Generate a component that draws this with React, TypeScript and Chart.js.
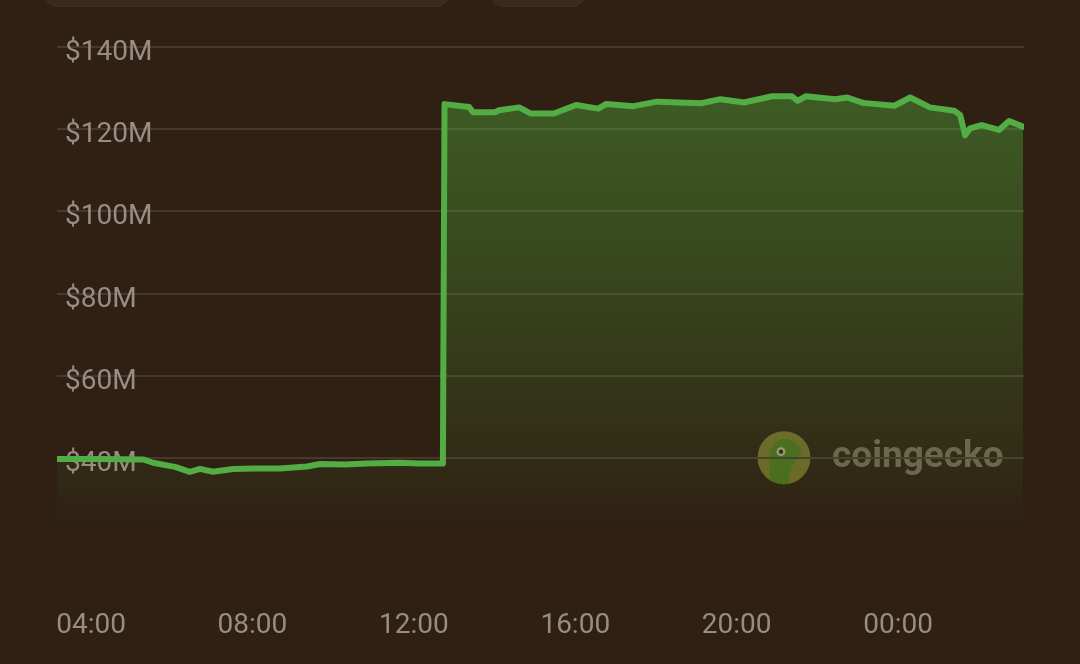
import React, { useEffect, useRef } from "react";
import { Chart, registerables } from "chart.js";

Chart.register(...registerables);

// hours of the day (values beyond 24 are the next day)
const hours: number[] = [
  3.157, 4.22, 5.29, 5.54, 6.08, 6.45, 6.7, 7.02, 7.52, 8.06, 8.68, 9.35, 9.68, 10.29, 10.84, 11.66, 12.15, 12.65, 12.72,
  12.76, 13.37, 13.47, 14.01, 14.11, 14.61, 14.9, 15.47, 16.02, 16.57, 16.76, 17.44, 18.03, 19.12, 19.6, 20.18, 20.88,
  21.37, 21.51, 21.71, 22.44, 22.74, 23.13, 23.91, 24.3, 24.79, 25.39, 25.54, 25.66, 25.78, 26.07, 26.5, 26.75, 27.1,
];
// market cap / volume, millions of USD
const values: number[] = [
  39.7, 39.7, 39.6, 38.8, 37.8, 36.6, 37.3, 36.6, 37.3, 37.4, 37.4, 37.9, 38.5, 38.4, 38.6, 38.8, 38.6, 38.6, 38.6,
  126.1, 125.4, 124.1, 124.1, 124.6, 125.3, 123.8, 123.8, 125.9, 125.0, 126.1, 125.6, 126.7, 126.3, 127.3, 126.5, 128.0,
  128.0, 126.9, 128.0, 127.3, 127.7, 126.4, 125.7, 127.7, 125.3, 124.5, 123.4, 118.5, 120.2, 121.0, 119.8, 122.0, 120.6,
];
const yTicks: number[] = [40, 60, 80, 100, 120, 140];
const xTicks: number[] = [4, 8, 12, 16, 20, 24];

const BG = "#2f2013";
const LABEL = "#978d83";

const watermark = {
  id: "watermark",
  beforeDraw(chart: any) {
    const ctx = chart.ctx;
    const { left, right, top, bottom } = chart.chartArea;
    const cx = left + (right - left) * 0.7518;
    const cy = top + (bottom - top) * 0.833;
    const r = 26.5;
    ctx.save();
    ctx.beginPath();
    ctx.arc(cx, cy, r, 0, Math.PI * 2);
    ctx.fillStyle = "#6e6528";
    ctx.fill();
    ctx.save();
    ctx.clip();
    ctx.beginPath();
    ctx.moveTo(cx - 14, cy + 28);
    ctx.bezierCurveTo(cx - 14, cy + 5, cx - 18, cy - 10, cx - 6, cy - 17);
    ctx.bezierCurveTo(cx + 4, cy - 22, cx + 16, cy - 14, cx + 18, cy - 6);
    ctx.bezierCurveTo(cx + 12, cy + 2, cx + 6, cy + 8, cx + 4, cy + 28);
    ctx.closePath();
    ctx.fillStyle = "#4a6a1c";
    ctx.fill();
    ctx.restore();
    ctx.beginPath();
    ctx.arc(cx - 3, cy - 6, 4.5, 0, Math.PI * 2);
    ctx.fillStyle = "#9a9a7a";
    ctx.fill();
    ctx.beginPath();
    ctx.arc(cx - 3, cy - 6, 2.2, 0, Math.PI * 2);
    ctx.fillStyle = "#2a2a14";
    ctx.fill();
    ctx.font = "bold 37px Roboto";
    ctx.fillStyle = "#6c6250";
    ctx.textBaseline = "alphabetic";
    ctx.textAlign = "left";
    ctx.fillText("coingecko", cx + 48, cy + 9, 174);
    ctx.restore();
  },
};

export default function App() {
  const ref = useRef<HTMLCanvasElement>(null);
  useEffect(() => {
    document.body.style.margin = "0";
    document.body.style.background = BG;
    const canvas = ref.current!;
    const chart = new Chart(canvas, {
      type: "line",
      data: {
        datasets: [
          {
            data: hours.map((h, i) => ({ x: h, y: values[i] })),
            borderColor: "#52ad45",
            borderWidth: 6,
            borderJoinStyle: "round",
            borderCapStyle: "round",
            pointRadius: 0,
            tension: 0,
            fill: "start",
            backgroundColor: (c: any) => {
              const ca = c.chart.chartArea;
              if (!ca) return "rgba(76,170,60,0.4)";
              const g = c.chart.ctx.createLinearGradient(0, ca.top, 0, ca.bottom);
              g.addColorStop(0, "rgba(80,170,60,0.48)");
              g.addColorStop(0.5, "rgba(80,170,60,0.26)");
              g.addColorStop(1, "rgba(80,170,60,0)");
              return g;
            },
          },
        ],
      },
      options: {
        responsive: false,
        animation: false,
        layout: { padding: { top: 47, left: 57, right: 56, bottom: 0 } },
        plugins: { legend: { display: false }, tooltip: { enabled: false } },
        scales: {
          x: {
            type: "linear",
            min: 3.157,
            max: 27.12,
            afterBuildTicks: (s: any) => {
              s.ticks = xTicks.map((v) => ({ value: v }));
            },
            afterFit: (s: any) => {
              s.height = 124;
              s.paddingLeft = 0;
              s.paddingRight = 0;
            },
            grid: { display: false, drawTicks: false },
            border: { display: false },
            ticks: {
              color: LABEL,
              font: { family: "Roboto", size: 28 },
              padding: 69,
              maxRotation: 0,
              autoSkip: false,
              callback: (v: any) => String(Number(v) % 24).padStart(2, "0") + ":00",
            },
          },
          y: {
            min: 20,
            max: 140,
            afterBuildTicks: (s: any) => {
              s.ticks = yTicks.map((v) => ({ value: v }));
            },
            afterFit: (s: any) => {
              s.width = 0;
              s.paddingTop = 0;
              s.paddingBottom = 0;
            },
            grid: { color: "#46392c", lineWidth: 2, drawTicks: false },
            border: { display: false },
            ticks: {
              mirror: true,
              padding: 8,
              labelOffset: 6,
              color: LABEL,
              font: { family: "Roboto", size: 28 },
              callback: (v: any) => "$" + v + "M",
            },
          },
        },
      },
      plugins: [watermark],
    });
    return () => chart.destroy();
  }, []);
  return (
    <div style={{ position: "relative", width: 1080, height: 664, background: BG, overflow: "hidden" }}>
      <div
        style={{
          position: "absolute",
          left: 44,
          top: -22,
          width: 406,
          height: 29,
          borderRadius: 14,
          background: "#382a1d",
          border: "1px solid #3f3124",
          boxSizing: "border-box",
        }}
      />
      <div
        style={{
          position: "absolute",
          left: 490,
          top: -22,
          width: 96,
          height: 29,
          borderRadius: 14,
          background: "#382a1d",
          border: "1px solid #3f3124",
          boxSizing: "border-box",
        }}
      />
      <canvas ref={ref} width={1080} height={664} style={{ position: "absolute", left: 0, top: 0 }} />
    </div>
  );
}
